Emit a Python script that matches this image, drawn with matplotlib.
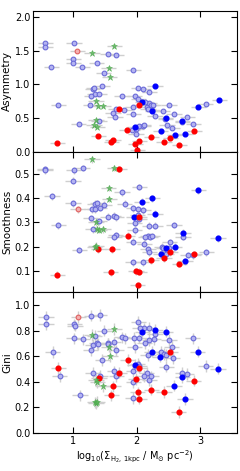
import numpy as np
import matplotlib
matplotlib.use("Agg")
import matplotlib.pyplot as plt

# ---------------- Data ----------------
# Panel 1: Asymmetry
asym_open_x = [0.565, 0.565, 1.016, 1.005, 1.005, 0.66, 1.145, 1.37, 1.55, 1.68, 1.95, 1.48, 1.457,
               1.31, 1.34, 1.29, 1.41, 1.77, 1.97, 2.03, 2.10, 2.20, 2.03, 0.77, 1.27, 1.67, 1.80,
               1.63, 1.66, 1.94, 1.95, 2.17, 2.20, 2.23, 2.26, 2.25, 2.18, 2.41, 2.51, 2.29, 2.45,
               2.59, 2.80, 2.72, 2.89, 3.09, 2.48, 2.56, 1.93, 2.04, 2.10, 2.11, 1.99, 1.99, 1.09, 1.41,
               1.33, 2.14]
asym_open_y = [1.61, 1.56, 1.62, 1.38, 1.315, 1.265, 1.265, 1.315, 1.45, 1.43, 1.22, 1.166, 0.98,
               0.93, 0.86, 0.82, 0.85, 0.82, 0.83, 0.95, 0.93, 0.89, 0.78, 0.69, 0.70, 0.635, 0.62,
               0.58, 0.52, 0.66, 0.56, 0.66, 0.73, 0.70, 0.69, 0.62, 0.63, 0.61, 0.70, 0.53, 0.48,
               0.56, 0.52, 0.44, 0.41, 0.71, 0.40, 0.35, 0.32, 0.38, 0.38, 0.40, 0.34, 0.27, 0.41, 0.46,
               0.94, 0.74]
asym_fill_x = [2.29, 2.09, 2.25, 2.46, 2.72, 3.30, 2.97, 1.97, 2.38, 2.60, 2.76]
asym_fill_y = [0.98, 0.74, 0.605, 0.50, 0.46, 0.77, 0.67, 0.36, 0.30, 0.25, 0.26]
asym_red_x = [0.75, 1.40, 1.60, 1.63, 1.73, 1.85, 2.04, 1.98, 2.04, 2.01, 2.23, 2.43, 2.53, 2.67, 2.91]
asym_red_y = [0.13, 0.23, 0.15, 0.17, 0.63, 0.32, 0.69, 0.11, 0.16, 0.02, 0.22, 0.15, 0.21, 0.10, 0.31]
asym_redopen_x = [1.07]
asym_redopen_y = [1.50]
asym_star_x = [1.30, 1.65, 1.56, 1.575, 1.36, 1.39, 1.47, 1.36, 1.33, 1.38]
asym_star_y = [1.47, 1.57, 1.24, 1.11, 0.76, 0.68, 0.68, 0.47, 0.39, 0.36]

# Panel 2: Smoothness
smooth_open_x = [0.56, 0.56, 1.01, 1.15, 1.0, 0.67, 1.0, 0.77, 1.10, 1.34, 1.38, 1.49, 1.30, 1.34,
                 1.42, 1.28, 1.55, 1.64, 1.68, 1.41, 1.31, 1.77, 1.81, 1.67, 1.65, 2.04, 1.95, 2.03,
                 2.10, 2.02, 2.04, 1.97, 2.20, 2.29, 1.97, 2.59, 2.18, 2.21, 2.25, 2.14, 1.95, 2.12,
                 2.73, 2.52, 2.18, 2.20, 2.40, 2.42, 2.48, 2.51, 2.47, 2.81, 2.89, 3.10, 1.94, 2.10]
smooth_open_y = [0.519, 0.514, 0.514, 0.523, 0.471, 0.407, 0.379, 0.288, 0.187, 0.376, 0.379, 0.372,
                 0.353, 0.354, 0.359, 0.317, 0.324, 0.327, 0.320, 0.305, 0.272, 0.424, 0.376, 0.247,
                 0.240, 0.445, 0.357, 0.354, 0.349, 0.330, 0.314, 0.297, 0.286, 0.286, 0.267, 0.289,
                 0.244, 0.241, 0.244, 0.238, 0.220, 0.213, 0.241, 0.219, 0.189, 0.178, 0.200, 0.193,
                 0.183, 0.193, 0.169, 0.166, 0.165, 0.177, 0.137, 0.137]
smooth_fill_x = [2.97, 2.25, 2.08, 2.29, 1.96, 2.73, 3.28, 2.46, 2.60, 2.38, 2.76]
smooth_fill_y = [0.431, 0.398, 0.385, 0.336, 0.320, 0.258, 0.235, 0.193, 0.200, 0.169, 0.141]
smooth_red_x = [1.73, 0.75, 1.40, 1.62, 1.59, 1.86, 2.04, 1.99, 2.04, 2.02, 2.23, 2.43, 2.53, 2.67, 2.91]
smooth_red_y = [0.519, 0.085, 0.190, 0.190, 0.095, 0.246, 0.323, 0.100, 0.097, 0.042, 0.145, 0.152,
                0.178, 0.129, 0.170]
smooth_redopen_x = [1.075]
smooth_redopen_y = [0.353]
smooth_star_x = [1.30, 1.65, 1.56, 1.57, 1.36, 1.38, 1.41, 1.47, 1.34, 1.36]
smooth_star_y = [0.559, 0.523, 0.441, 0.396, 0.301, 0.272, 0.270, 0.272, 0.200, 0.204]

# Panel 3: Gini
gini_open_x = [0.574, 0.574, 1.29, 1.42, 1.02, 1.03, 1.01, 1.15, 1.49, 1.34, 1.31, 1.37, 1.39, 1.55,
               1.64, 1.68, 1.28, 0.68, 1.46, 0.79, 1.31, 1.43, 1.65, 1.68, 1.11, 1.77, 1.81, 1.55,
               2.03, 2.12, 2.20, 2.05, 2.29, 1.96, 2.04, 2.20, 2.27, 2.51, 2.13, 1.97, 2.55, 2.39,
               2.43, 2.18, 2.47, 2.88, 2.57, 2.02, 1.95, 2.04, 2.47, 2.16, 2.11, 2.20, 2.23, 1.95,
               2.72, 2.79, 3.09, 1.94]
gini_open_y = [0.909, 0.849, 0.917, 0.922, 0.849, 0.839, 0.740, 0.732, 0.800, 0.758, 0.688, 0.700,
               0.696, 0.701, 0.709, 0.647, 0.649, 0.634, 0.569, 0.442, 0.473, 0.447, 0.481, 0.442,
               0.294, 0.748, 0.740, 0.696, 0.868, 0.818, 0.823, 0.818, 0.774, 0.745, 0.745, 0.727,
               0.732, 0.727, 0.701, 0.670, 0.675, 0.636, 0.616, 0.608, 0.608, 0.740, 0.584, 0.538,
               0.486, 0.525, 0.519, 0.473, 0.447, 0.416, 0.442, 0.395, 0.468, 0.460, 0.525, 0.273]
gini_fill_x = [2.09, 2.29, 2.46, 2.24, 2.37, 2.96, 1.97, 3.28, 2.72, 2.59, 2.76]
gini_fill_y = [0.792, 0.805, 0.792, 0.636, 0.597, 0.636, 0.532, 0.504, 0.436, 0.371, 0.265]
gini_red_x = [0.77, 1.41, 1.63, 1.60, 1.73, 1.86, 2.04, 1.99, 2.02, 2.04, 2.23, 2.43, 2.53, 2.66, 2.90]
gini_red_y = [0.509, 0.429, 0.364, 0.294, 0.473, 0.571, 0.512, 0.421, 0.317, 0.268, 0.340, 0.319,
              0.636, 0.164, 0.410]
gini_redopen_x = [1.085]
gini_redopen_y = [0.909]
gini_star_x = [1.30, 1.65, 1.56, 1.58, 1.36, 1.38, 1.47, 1.34, 1.36, 1.38]
gini_star_y = [0.766, 0.813, 0.675, 0.603, 0.416, 0.395, 0.364, 0.239, 0.231, 0.245]

x_err = 0.12
y_errs = [0.03, 0.014, 0.045]

panels = [
    ("Asymmetry", (asym_open_x, asym_open_y), (asym_fill_x, asym_fill_y), (asym_red_x, asym_red_y),
     (asym_redopen_x, asym_redopen_y), (asym_star_x, asym_star_y)),
    ("Smoothness", (smooth_open_x, smooth_open_y), (smooth_fill_x, smooth_fill_y), (smooth_red_x, smooth_red_y),
     (smooth_redopen_x, smooth_redopen_y), (smooth_star_x, smooth_star_y)),
    ("Gini", (gini_open_x, gini_open_y), (gini_fill_x, gini_fill_y), (gini_red_x, gini_red_y),
     (gini_redopen_x, gini_redopen_y), (gini_star_x, gini_star_y)),
]
ylims = [(0.0, 2.09), (0.013, 0.59), (0.0, 1.10)]
yticks = [np.arange(0, 2.01, 0.5), np.arange(0.1, 0.51, 0.1), np.arange(0, 1.01, 0.2)]

# ---------------- Plot ----------------
fig = plt.figure(figsize=(2.40, 4.71), dpi=100)
left, right, top, bottom = 0.1375, 0.9875, 0.9766, 0.0807
h = (top - bottom) / 3
axes = []
for i in range(3):
    ax = fig.add_axes([left, top - (i + 1) * h, right - left, h])
    axes.append(ax)

ecol = '#cfcfcf'
for i, (ax, (lab, op, fi, rd, ro, st)) in enumerate(zip(axes, panels)):
    ye = y_errs[i]
    for (xs, ys) in (op, fi, rd, ro, st):
        ax.errorbar(xs, ys, xerr=x_err, yerr=ye, fmt='none', ecolor=ecol, elinewidth=1.0,
                    capsize=0, zorder=1)
    ax.plot(op[0], op[1], 'o', ms=3.4, mfc='#b4b4f2', mec='#6a6ad8', mew=0.8, ls='none', zorder=3)
    ax.plot(fi[0], fi[1], 'o', ms=3.4, mfc='#0000ff', mec='#0000ff', ls='none', zorder=4)
    ax.plot(rd[0], rd[1], 'o', ms=3.4, mfc='#ff0000', mec='#ff0000', ls='none', zorder=4)
    ax.plot(ro[0], ro[1], 'o', ms=3.4, mfc='#f4b0b0', mec='#e06060', mew=0.8, ls='none', zorder=3)
    ax.plot(st[0], st[1], '*', ms=5.0, mfc='#5cb85c', mec='#4aa84a', mew=0.4, alpha=0.85,
            ls='none', zorder=4)
    ax.set_xlim(0.37, 3.58)
    ax.set_ylim(*ylims[i])
    ax.set_yticks(yticks[i])
    ax.set_yticklabels(["{:.1f}".format(v) for v in yticks[i]])
    ax.set_xticks([1, 2, 3])
    ax.tick_params(direction='in', top=True, right=True, length=4, width=0.8, labelsize=7, pad=2)
    ax.set_ylabel(lab, fontsize=7.5, labelpad=2)
    for s in ax.spines.values():
        s.set_linewidth(0.8)
    if i < 2:
        ax.tick_params(labelbottom=False)

axes[2].set_xlabel(r'log$_{10}$($\Sigma_{\rm H_2,\,1kpc}$ / M$_{\odot}$ pc$^{-2}$)', fontsize=7, labelpad=2)

fig.savefig('out.png', dpi=100)
